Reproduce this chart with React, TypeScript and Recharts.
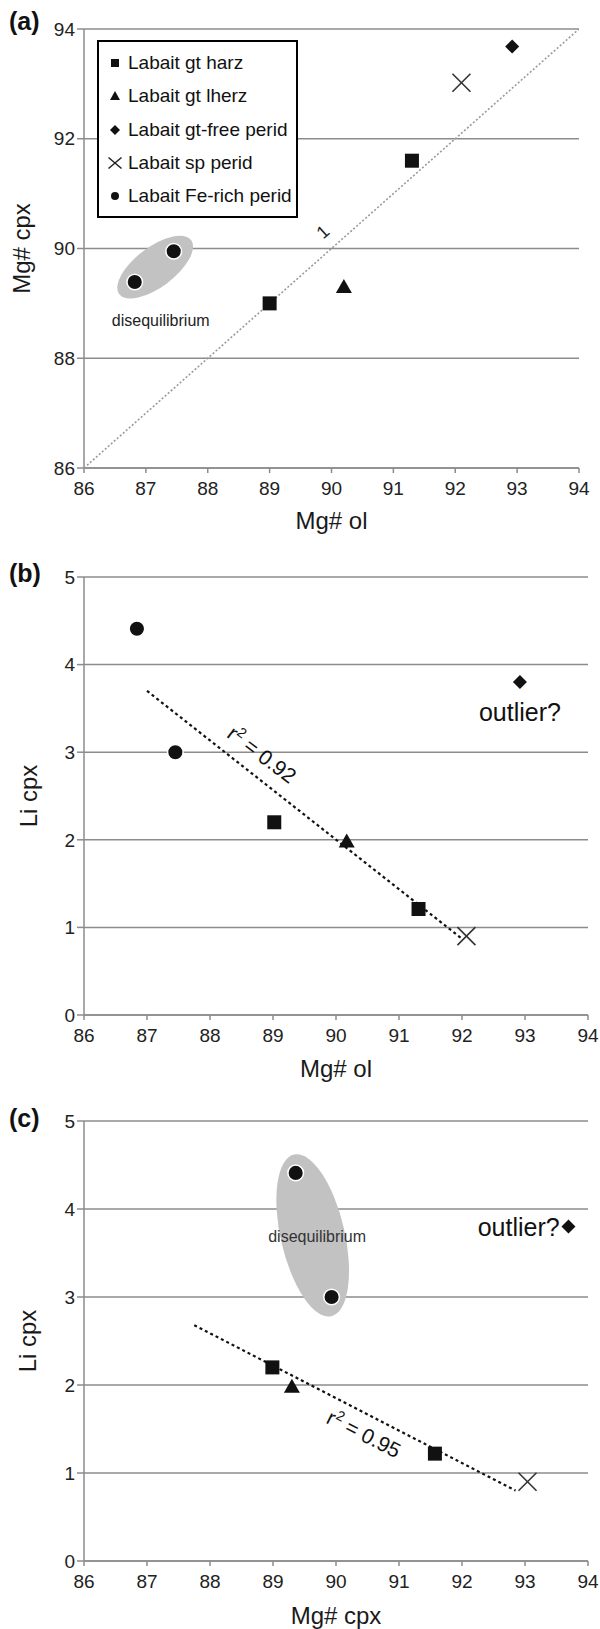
import React from 'react';
import { ScatterChart, Scatter, XAxis, YAxis, CartesianGrid, Legend } from 'recharts';

const FONT = '"Liberation Sans", Arial, Helvetica, sans-serif';

// ---------- categories / ticks ----------
const seriesNames = [
  'Labait gt harz',
  'Labait gt lherz',
  'Labait gt-free perid',
  'Labait sp perid',
  'Labait Fe-rich perid',
];
const xTicksMg = [86, 87, 88, 89, 90, 91, 92, 93, 94];
const yTicksMgCpx = [86, 88, 90, 92, 94];
const yTicksLi = [0, 1, 2, 3, 4, 5];

// ---------- panel (a): Mg# ol vs Mg# cpx ----------
const aHarz = [{ x: 89.0, y: 89.0 }, { x: 91.3, y: 91.6 }];
const aLherz = [{ x: 90.2, y: 89.3 }];
const aGtFree = [{ x: 92.92, y: 93.68 }];
const aSp = [{ x: 92.1, y: 93.02 }];
const aFeRich = [{ x: 86.82, y: 89.39 }, { x: 87.45, y: 89.95 }];
const aOneToOne = [{ x: 86, y: 86 }, { x: 94, y: 94 }];
const aEllipse = [{ x: 87.15, y: 89.66 }];
const aDiseqLabel = [{ x: 87.24, y: 88.68 }];
const aOneLabel = [{ x: 89.86, y: 90.3 }];

// ---------- panel (b): Mg# ol vs Li cpx ----------
const bHarz = [{ x: 89.02, y: 2.2 }, { x: 91.31, y: 1.21 }];
const bLherz = [{ x: 90.17, y: 1.98 }];
const bGtFree = [{ x: 92.92, y: 3.8 }];
const bSp = [{ x: 92.07, y: 0.9 }];
const bFeRich = [{ x: 86.84, y: 4.41 }, { x: 87.45, y: 3.0 }];
const bTrend = [{ x: 87.0, y: 3.7 }, { x: 92.0, y: 0.87 }];
const bOutlierLabel = [{ x: 92.92, y: 3.46 }];
const bR2Label = [{ x: 88.82, y: 2.97 }];

// ---------- panel (c): Mg# cpx vs Li cpx ----------
const cHarz = [{ x: 88.99, y: 2.2 }, { x: 91.57, y: 1.22 }];
const cLherz = [{ x: 89.3, y: 1.98 }];
const cGtFree = [{ x: 93.69, y: 3.8 }];
const cSp = [{ x: 93.04, y: 0.9 }];
const cFeRich = [{ x: 89.36, y: 4.41 }, { x: 89.93, y: 3.0 }];
const cTrend = [{ x: 87.75, y: 2.68 }, { x: 92.85, y: 0.8 }];
const cEllipse = [{ x: 89.63, y: 3.7 }];
const cDiseqLabel = [{ x: 89.7, y: 3.69 }];
const cOutlierLabel = [{ x: 93.55, y: 3.8 }];
const cR2Label = [{ x: 90.44, y: 1.44 }];

// ---------- styles ----------
const GRID = '#8c8c8c';
const INK = '#111';

// ---------- shapes ----------
const SquareShape = (p: any) => <rect x={p.cx - 7} y={p.cy - 7} width={14} height={14} fill={INK} />;
const TriangleShape = (p: any) => (
  <polygon points={`${p.cx},${p.cy - 8} ${p.cx + 8},${p.cy + 6} ${p.cx - 8},${p.cy + 6}`} fill={INK} />
);
const DiamondShape = (p: any) => (
  <polygon points={`${p.cx},${p.cy - 7} ${p.cx + 7},${p.cy} ${p.cx},${p.cy + 7} ${p.cx - 7},${p.cy}`} fill={INK} />
);
const CrossShape = (p: any) => (
  <g stroke="#333" strokeWidth={1.6}>
    <line x1={p.cx - 9} y1={p.cy - 9} x2={p.cx + 9} y2={p.cy + 9} />
    <line x1={p.cx - 9} y1={p.cy + 9} x2={p.cx + 9} y2={p.cy - 9} />
  </g>
);
const DotShape = (p: any) => <circle cx={p.cx} cy={p.cy} r={7.8} fill={INK} stroke="#fff" strokeWidth={1.5} />;
const NoShape = () => <g />;

const ellipseShape = (rx: number, ry: number, angle: number) => (p: any) => (
  <ellipse cx={p.cx} cy={p.cy} rx={rx} ry={ry} fill="#c2c2c2" transform={`rotate(${angle} ${p.cx} ${p.cy})`} />
);

const textShape = (text: string, size: number, anchor: string, angle = 0, fill = INK) => (p: any) => (
  <text
    x={p.cx}
    y={p.cy}
    fontSize={size}
    fill={fill}
    textAnchor={anchor}
    dominantBaseline="central"
    transform={angle ? `rotate(${angle} ${p.cx} ${p.cy})` : undefined}
  >
    {text}
  </text>
);

const r2Shape = (value: string, angle: number) => (p: any) => (
  <text
    x={p.cx}
    y={p.cy}
    fontSize={21}
    fill={INK}
    textAnchor="middle"
    transform={`rotate(${angle} ${p.cx} ${p.cy})`}
  >
    <tspan dy={7}>r</tspan>
    <tspan dy={-8} fontSize={14}>2</tspan>
    <tspan dy={8}>{` = ${value}`}</tspan>
  </text>
);

const legendIcon = (i: number) => {
  const c = 16;
  const m = 12;
  switch (i) {
    case 0:
      return <rect x={c - 4} y={m - 4} width={8} height={8} fill={INK} />;
    case 1:
      return <polygon points={`${c},${m - 5} ${c + 5},${m + 4} ${c - 5},${m + 4}`} fill={INK} />;
    case 2:
      return <polygon points={`${c},${m - 5} ${c + 5},${m} ${c},${m + 5} ${c - 5},${m}`} fill={INK} />;
    case 3:
      return (
        <g stroke="#222" strokeWidth={1.5}>
          <line x1={c - 6.5} y1={m - 5.5} x2={c + 6.5} y2={m + 5.5} />
          <line x1={c - 6.5} y1={m + 5.5} x2={c + 6.5} y2={m - 5.5} />
        </g>
      );
    default:
      return <circle cx={c} cy={m} r={4} fill={INK} />;
  }
};

const renderLegend = (props: any) => {
  const payload = (props && props.payload) || [];
  const items = payload
    .filter((e: any) => seriesNames.includes(e.value))
    .sort((p: any, q: any) => seriesNames.indexOf(p.value) - seriesNames.indexOf(q.value));
  return (
    <div
      style={{
        position: 'relative',
        width: 201,
        height: 178,
        border: '2px solid #000',
        boxSizing: 'border-box',
        background: '#fff',
        fontFamily: FONT,
      }}
    >
      {items.map((e: any, k: number) => {
        const idx = seriesNames.indexOf(e.value);
        return (
          <div
            key={e.value}
            style={{ position: 'absolute', left: 0, top: 9 + k * 33.3, height: 24, display: 'flex', alignItems: 'center' }}
          >
            <svg width={29} height={24} style={{ display: 'block' }}>
              {legendIcon(idx)}
            </svg>
            <span style={{ fontSize: 19, color: INK, whiteSpace: 'nowrap', lineHeight: '24px' }}>{e.value}</span>
          </div>
        );
      })}
    </div>
  );
};

const tickStyle = { fontSize: 19, fill: '#222' };
const axisLineStyle = { stroke: GRID, strokeWidth: 1.5 };

const xAxisProps = (height: number, title: string, offset: number) => ({
  type: 'number' as const,
  dataKey: 'x',
  domain: [86, 94],
  ticks: xTicksMg,
  interval: 0 as const,
  height,
  tick: tickStyle,
  tickLine: { stroke: GRID, strokeWidth: 1.5 },
  axisLine: axisLineStyle,
  tickSize: 5,
  tickMargin: 9,
  allowDataOverflow: true,
  label: { value: title, position: 'insideBottom', offset, fontSize: 24, fill: '#1a1a1a' },
});

const yAxisProps = (domain: number[], ticks: number[], title: string, offset: number) => ({
  type: 'number' as const,
  dataKey: 'y',
  domain,
  ticks,
  interval: 0 as const,
  width: 84,
  tick: tickStyle,
  tickLine: { stroke: GRID, strokeWidth: 1.5 },
  axisLine: axisLineStyle,
  tickSize: 7,
  tickMargin: 2,
  allowDataOverflow: true,
  label: {
    value: title,
    angle: -90,
    position: 'insideLeft',
    offset,
    fontSize: 24,
    fill: '#1a1a1a',
    style: { textAnchor: 'middle' },
  },
});

const trendLine = { stroke: INK, strokeWidth: 2.2, strokeDasharray: '3 3' };

export default function App() {
  return (
    <div style={{ position: 'absolute', left: 0, top: 0, width: 600, height: 1629, background: '#fff', fontFamily: FONT }}>
      {/* panel (a) */}
      <div style={{ position: 'absolute', left: 0, top: 0 }}>
        <ScatterChart width={600} height={540} margin={{ top: 29, right: 21, bottom: 0, left: 0 }}>
          <CartesianGrid vertical={false} stroke={GRID} strokeWidth={1.5} />
          <XAxis {...(xAxisProps(72, 'Mg# ol', 11) as any)} />
          <YAxis {...(yAxisProps([86, 94], yTicksMgCpx, 'Mg# cpx', 21) as any)} />
          <Scatter data={aOneToOne} line={{ stroke: '#9a9a9a', strokeWidth: 1.6, strokeDasharray: '2 2' }} shape={NoShape} legendType="none" isAnimationActive={false} />
          <Scatter data={aEllipse} shape={ellipseShape(45, 20, -37)} legendType="none" isAnimationActive={false} />
          <Scatter data={aDiseqLabel} shape={textShape('disequilibrium', 16, 'middle', 0, '#222')} legendType="none" isAnimationActive={false} />
          <Scatter data={aOneLabel} shape={textShape('1', 18, 'middle', -42, '#222')} legendType="none" isAnimationActive={false} />
          <Scatter name={seriesNames[0]} data={aHarz} shape={SquareShape} isAnimationActive={false} />
          <Scatter name={seriesNames[1]} data={aLherz} shape={TriangleShape} isAnimationActive={false} />
          <Scatter name={seriesNames[2]} data={aGtFree} shape={DiamondShape} isAnimationActive={false} />
          <Scatter name={seriesNames[3]} data={aSp} shape={CrossShape} isAnimationActive={false} />
          <Scatter name={seriesNames[4]} data={aFeRich} shape={DotShape} isAnimationActive={false} />
          <Legend
            layout="vertical"
            align="center"
            verticalAlign="middle"
            content={renderLegend}
            wrapperStyle={{ left: 97, top: 40, width: 201, height: 178 }}
          />
        </ScatterChart>
      </div>

      {/* panel (b) */}
      <div style={{ position: 'absolute', left: 0, top: 540 }}>
        <ScatterChart width={600} height={550} margin={{ top: 37, right: 12, bottom: 0, left: 0 }}>
          <CartesianGrid vertical={false} stroke={GRID} strokeWidth={1.5} />
          <XAxis {...(xAxisProps(75, 'Mg# ol', 13) as any)} />
          <YAxis {...(yAxisProps([0, 5], yTicksLi, 'Li cpx', 28) as any)} />
          <Scatter data={bTrend} line={trendLine} shape={NoShape} legendType="none" isAnimationActive={false} />
          <Scatter data={bR2Label} shape={r2Shape('0.92', 37)} legendType="none" isAnimationActive={false} />
          <Scatter data={bOutlierLabel} shape={textShape('outlier?', 25, 'middle')} legendType="none" isAnimationActive={false} />
          <Scatter name={seriesNames[0]} data={bHarz} shape={SquareShape} isAnimationActive={false} />
          <Scatter name={seriesNames[1]} data={bLherz} shape={TriangleShape} isAnimationActive={false} />
          <Scatter name={seriesNames[2]} data={bGtFree} shape={DiamondShape} isAnimationActive={false} />
          <Scatter name={seriesNames[3]} data={bSp} shape={CrossShape} isAnimationActive={false} />
          <Scatter name={seriesNames[4]} data={bFeRich} shape={DotShape} isAnimationActive={false} />
        </ScatterChart>
      </div>

      {/* panel (c) */}
      <div style={{ position: 'absolute', left: 0, top: 1090 }}>
        <ScatterChart width={600} height={539} margin={{ top: 31, right: 12, bottom: 0, left: 0 }}>
          <CartesianGrid vertical={false} stroke={GRID} strokeWidth={1.5} />
          <XAxis {...(xAxisProps(68, 'Mg# cpx', 5) as any)} />
          <YAxis {...(yAxisProps([0, 5], yTicksLi, 'Li cpx', 27) as any)} />
          <Scatter data={cEllipse} shape={ellipseShape(32, 83, -13)} legendType="none" isAnimationActive={false} />
          <Scatter data={cDiseqLabel} shape={textShape('disequilibrium', 16, 'middle', 0, '#333')} legendType="none" isAnimationActive={false} />
          <Scatter data={cTrend} line={trendLine} shape={NoShape} legendType="none" isAnimationActive={false} />
          <Scatter data={cR2Label} shape={r2Shape('0.95', 27)} legendType="none" isAnimationActive={false} />
          <Scatter data={cOutlierLabel} shape={textShape('outlier?', 25, 'end')} legendType="none" isAnimationActive={false} />
          <Scatter name={seriesNames[0]} data={cHarz} shape={SquareShape} isAnimationActive={false} />
          <Scatter name={seriesNames[1]} data={cLherz} shape={TriangleShape} isAnimationActive={false} />
          <Scatter name={seriesNames[2]} data={cGtFree} shape={DiamondShape} isAnimationActive={false} />
          <Scatter name={seriesNames[3]} data={cSp} shape={CrossShape} isAnimationActive={false} />
          <Scatter name={seriesNames[4]} data={cFeRich} shape={DotShape} isAnimationActive={false} />
        </ScatterChart>
      </div>

      {/* panel letters */}
      <svg width={600} height={1629} style={{ position: 'absolute', left: 0, top: 0, pointerEvents: 'none' }}>
        <text x={9} y={30} fontSize={25} fontWeight="bold" fill={INK}>(a)</text>
        <text x={9} y={582} fontSize={25} fontWeight="bold" fill={INK}>(b)</text>
        <text x={9} y={1127} fontSize={25} fontWeight="bold" fill={INK}>(c)</text>
      </svg>
    </div>
  );
}
